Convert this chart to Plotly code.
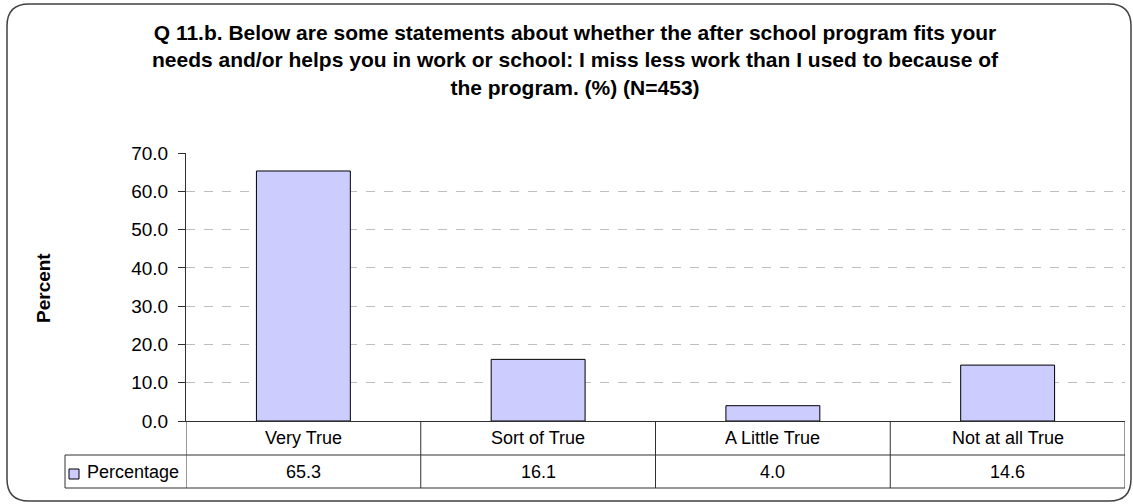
import plotly.graph_objects as go

# data
categories = ["Very True", "Sort of True", "A Little True", "Not at all True"]
percentages = [65.3, 16.1, 4.0, 14.6]
series_name = "Percentage"
title_lines = [
    "Q 11.b. Below are some statements about whether the after school program fits your",
    "needs and/or helps you in work or school: I miss less work than I used to because of",
    "the program. (%) (N=453)",
]
y_ticks = [0, 10, 20, 30, 40, 50, 60, 70]

W, H = 1133, 504
FONT = "Liberation Sans, Arial, sans-serif"
LINE = "#303030"


def px(x):
    return x / W


def py(y):
    return 1 - y / H


fig = go.Figure()
fig.add_trace(go.Bar(
    x=categories, y=percentages, name=series_name,
    marker=dict(color="#CCCCFF", line=dict(color="#000000", width=1)),
    showlegend=False, hoverinfo="skip",
))

shapes = []
annotations = []

# outer rounded frame
x0, x1, y0, y1, r = 7, 1131, 4, 501, 22
path = (
    f"M {px(x0 + r)},{py(y0)} L {px(x1 - r)},{py(y0)} "
    f"Q {px(x1)},{py(y0)} {px(x1)},{py(y0 + r)} "
    f"L {px(x1)},{py(y1 - r)} Q {px(x1)},{py(y1)} {px(x1 - r)},{py(y1)} "
    f"L {px(x0 + r)},{py(y1)} Q {px(x0)},{py(y1)} {px(x0)},{py(y1 - r)} "
    f"L {px(x0)},{py(y0 + r)} Q {px(x0)},{py(y0)} {px(x0 + r)},{py(y0)} Z"
)
shapes.append(dict(type="path", path=path, xref="paper", yref="paper",
                   line=dict(color="#404040", width=1.5), layer="below"))

# data table below the plot
top, mid, bot = 421, 455, 488
left_leg = 65
for i in range(len(categories) + 1):
    shapes.append(dict(type="line", xref="x", yref="paper",
                       x0=i - 0.5, x1=i - 0.5, y0=py(top), y1=py(bot),
                       line=dict(color=LINE, width=1)))
shapes.append(dict(type="line", xref="paper", yref="paper",
                   x0=px(left_leg), x1=px(left_leg), y0=py(mid), y1=py(bot),
                   line=dict(color=LINE, width=1)))
for yy in (mid, bot):
    shapes.append(dict(type="line", xref="paper", yref="paper",
                       x0=px(left_leg), x1=px(1125), y0=py(yy), y1=py(yy),
                       line=dict(color=LINE, width=1)))

for cat, val in zip(categories, percentages):
    annotations.append(dict(x=cat, xref="x", y=py((top + mid) / 2), yref="paper",
                            yanchor="middle", text=cat, showarrow=False,
                            font=dict(size=18, color="#000000", family=FONT)))
    annotations.append(dict(x=cat, xref="x", y=py((mid + bot) / 2), yref="paper",
                            yanchor="middle", text=f"{val:.1f}", showarrow=False,
                            font=dict(size=18, color="#000000", family=FONT)))

# legend key inside table
shapes.append(dict(type="rect", xref="paper", yref="paper",
                   x0=px(69), x1=px(79), y0=py(479), y1=py(469),
                   fillcolor="#CCCCFF", line=dict(color="#000000", width=1)))
annotations.append(dict(x=px(85), y=py(472), xref="paper", yref="paper",
                        xanchor="left", yanchor="middle", text=series_name,
                        showarrow=False,
                        font=dict(size=18, color="#000000", family=FONT)))

# axis title
annotations.append(dict(x=px(43), y=py(288), xref="paper", yref="paper",
                        xanchor="center", yanchor="middle",
                        text="<b>Percent</b>", textangle=-90, showarrow=False,
                        font=dict(size=19, color="#000000", family=FONT)))

# chart title
annotations.append(dict(x=px(575), y=py(19), xref="paper", yref="paper",
                        xanchor="center", yanchor="top",
                        text="<br>".join(f"<b>{t}</b>" for t in title_lines),
                        showarrow=False, align="center",
                        font=dict(size=21, color="#000000", family=FONT)))

fig.update_layout(
    width=W, height=H,
    margin=dict(l=0, r=0, t=0, b=0, autoexpand=False),
    paper_bgcolor="white", plot_bgcolor="white",
    bargap=0.6,
    font=dict(family=FONT, color="#000000"),
    shapes=shapes, annotations=annotations,
    xaxis=dict(domain=[px(186), px(1125)], range=[-0.5, 3.5],
               showticklabels=False, ticks="", showgrid=False, automargin=False,
               showline=True, linecolor=LINE, linewidth=1, zeroline=False),
    yaxis=dict(domain=[py(421), py(153)], range=[0, 70],
               tickvals=y_ticks, tickformat=".1f", automargin=False,
               ticks="outside", ticklen=7, tickcolor=LINE,
               ticklabelstandoff=6,
               tickfont=dict(size=19, color="#000000", family=FONT),
               showline=True, linecolor=LINE, linewidth=1,
               showgrid=False, zeroline=False,
               minor=dict(tickvals=[10, 20, 30, 40, 50, 60], showgrid=True,
                          gridcolor="#BEBEBE", griddash="dash", gridwidth=1,
                          ticks="")),
)

fig.write_html("out.html", config={"displayModeBar": False},
               post_script="document.body.style.margin='0';document.body.style.overflow='hidden';")
